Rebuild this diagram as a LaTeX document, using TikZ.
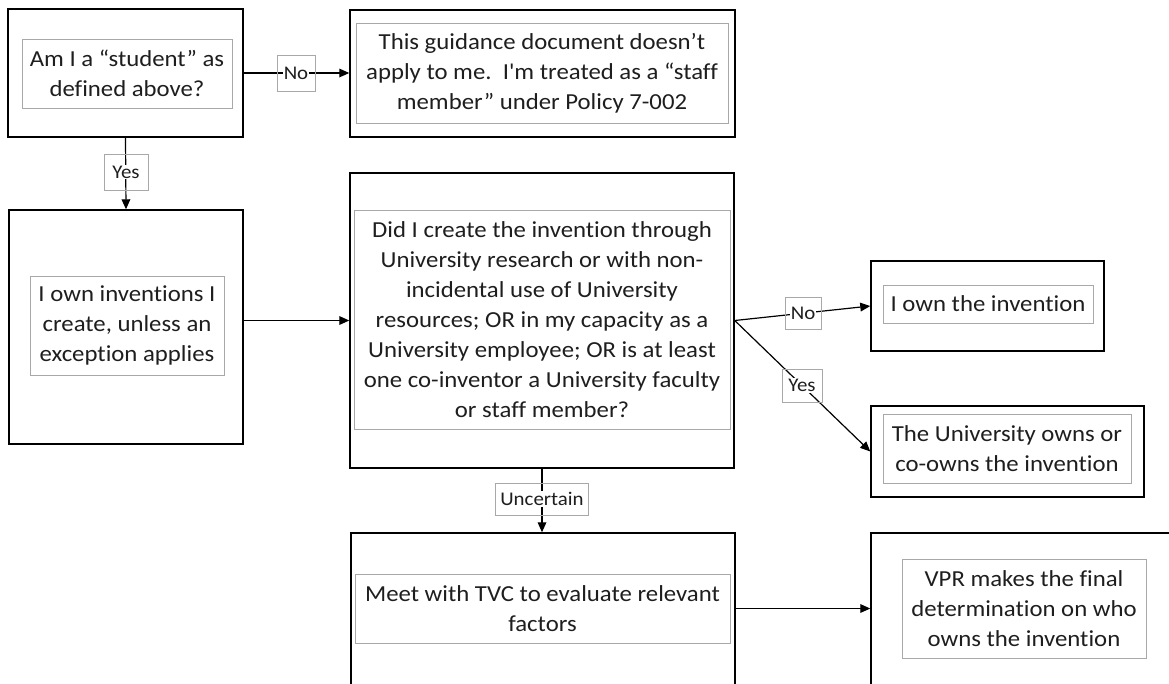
\documentclass[tikz,border=0pt]{standalone}
\usepackage{fontspec}
\setmainfont{Carlito}[FakeStretch=1.08,Ligatures={TeXOff,NoCommon}]
\usetikzlibrary{arrows.meta}
\definecolor{txt}{HTML}{1E1E1E}
\definecolor{inner}{HTML}{A8A8A8}
\tikzset{
  outerbox/.style={draw=black, line width=1.1pt, minimum width=#1, inner sep=0pt},
  innerbox/.style={draw=inner, line width=0.7pt, inner sep=0pt, align=center, text=txt,
    font=\fontsize{17.2}{22.5}\selectfont},
  lbl/.style={draw=inner, line width=0.6pt, inner sep=0pt, text=txt,
    font=\fontsize{14.5}{16}\selectfont},
  conn/.style={line width=0.9pt, -{Triangle[length=7.5pt,width=6.5pt]}},
}
\newcommand{\lt}[1]{{\setlength{\fboxsep}{0.6pt}\colorbox{white}{#1}}}
\begin{document}
\begin{tikzpicture}[x=0.75pt,y=-0.75pt]
\useasboundingbox (0,0) rectangle (1169,683);
\clip (0,0) rectangle (1169,683);
% outer boxes
\node[outerbox=235*0.75pt, minimum height=128*0.75pt] (A) at (125.5,73) {};
\node[outerbox=385*0.75pt, minimum height=127*0.75pt] (B) at (542.5,73.5) {};
\node[outerbox=234*0.75pt, minimum height=234*0.75pt] (C) at (126,327) {};
\node[outerbox=384*0.75pt, minimum height=295*0.75pt] (D) at (542,320.5) {};
\node[outerbox=233*0.75pt, minimum height=90*0.75pt] (E) at (987.5,306) {};
\node[outerbox=273*0.75pt, minimum height=91*0.75pt] (F) at (1007.5,451.5) {};
\node[outerbox=384*0.75pt, minimum height=187*0.75pt] (G) at (543,626.5) {};
\node[outerbox=320*0.75pt, minimum height=187*0.75pt] (H) at (1031,626.5) {};
% inner text boxes
\node[innerbox, minimum width=210*0.75pt, minimum height=69*0.75pt] (Ai) at (127,73.5)
  {Am I a “student” as\\defined above?};
\node[innerbox, minimum width=372*0.75pt, minimum height=100*0.75pt] (Bi) at (542,73)
  {This guidance document doesn’t\\apply to me.\ \ I'm treated as a “staff\\member” under Policy 7-002};
\node[innerbox, minimum width=194*0.75pt, minimum height=99*0.75pt] (Ci) at (127,325.5)
  {I own inventions I\\create, unless an\\exception applies};
\node[innerbox, minimum width=376*0.75pt, minimum height=219*0.75pt] (Di) at (542,319.5)
  {Did I create the invention through\\University research or with non-\\incidental use of University\\resources; OR in my capacity as a\\University employee; OR is at least\\one co-inventor a University faculty\\or staff member?};
\node[innerbox, minimum width=210*0.75pt, minimum height=38*0.75pt] (Ei) at (988,304)
  {I own the invention};
\node[innerbox, minimum width=248*0.75pt, minimum height=69*0.75pt] (Fi) at (1007,448.5)
  {The University owns or\\co-owns the invention};
\node[innerbox, minimum width=375*0.75pt, minimum height=69*0.75pt] (Gi) at (542.5,608.5)
  {Meet with TVC to evaluate relevant\\factors};
\node[innerbox, minimum width=244*0.75pt, minimum height=99*0.75pt] (Hi) at (1024,608.5)
  {VPR makes the final\\determination on who\\owns the invention};
% connectors
\draw[conn] (A.east) -- (A.east -| B.west);
\draw[conn] (A.south) -- (C.north);
\draw[conn] (C.east |- D.west) -- (D.west);
\draw[conn] (D.east) -- (E.west);
\draw[conn] (D.east) -- (F.west);
\draw[conn] (D.south) -- (D.south |- G.north);
\draw[conn] (Gi -| G.east) -- (Gi -| H.west);
% labels
\node[lbl, minimum width=38*0.75pt, minimum height=36*0.75pt] (l1) at (296,73) {\lt{No}};
\node[lbl, minimum width=44*0.75pt, minimum height=36*0.75pt] (l2) at (126,172) {\lt{Yes}};
\node[lbl, minimum width=36*0.75pt, minimum height=32*0.75pt] (l3) at (803,313) {\lt{No}};
\node[lbl, minimum width=40*0.75pt, minimum height=33*0.75pt] (l4) at (802,385.5) {\lt{Yes}};
\node[lbl, minimum width=93*0.75pt, minimum height=32*0.75pt] (l5) at (542,499) {\lt{Uncertain}};
\end{tikzpicture}
\end{document}
